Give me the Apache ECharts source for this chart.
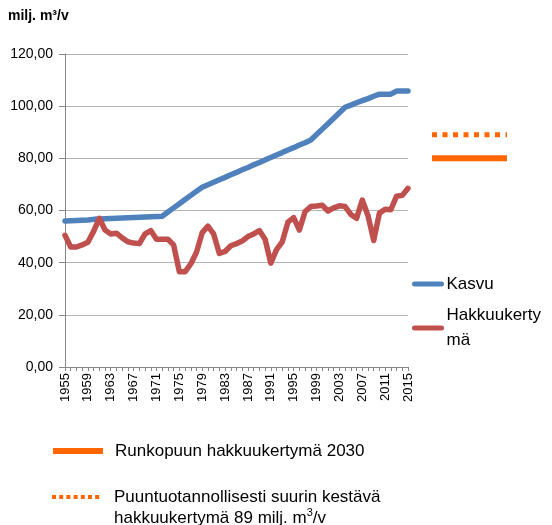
<!DOCTYPE html>
<html>
<head>
<meta charset="utf-8">
<script src="https://cdn.jsdelivr.net/npm/echarts@6/dist/echarts.min.js"></script>
<style>
html, body { margin: 0; padding: 0; background: #fff; }
#main { width: 552px; height: 525px; }
</style>
</head>
<body>
<div id="main"></div>
<script>
var years = [];
for (var y = 1955; y <= 2015; y++) years.push(String(y));

// Kasvu, milj. m3/v
var kasvu = [56.0, 56.1, 56.2, 56.3, 56.4, 56.6, 56.7, 56.8, 56.9, 57.0,
	57.1, 57.2, 57.3, 57.4, 57.5, 57.6, 57.7, 57.8, 59.4, 61.0,
	62.6, 64.2, 65.8, 67.4, 68.9, 69.9, 70.8, 71.8, 72.7, 73.7,
	74.6, 75.6, 76.5, 77.5, 78.4, 79.4, 80.3, 81.3, 82.2, 83.2,
	84.1, 85.1, 86.0, 87.0, 89.1, 91.2, 93.3, 95.4, 97.5, 99.6,
	100.4, 101.3, 102.1, 102.9, 103.8, 104.6, 104.6, 104.6, 105.8, 105.8,
	105.8];

// Hakkuukertymä, milj. m3/v
var hakkuu = [50.5, 46.0, 46.0, 46.8, 47.8, 52.0, 57.0, 52.5, 51.0, 51.3,
	49.5, 48.0, 47.5, 47.3, 51.0, 52.3, 49.0, 49.0, 49.0, 46.8,
	36.5, 36.5, 39.5, 44.0, 51.5, 54.0, 51.0, 43.5, 44.3, 46.5,
	47.3, 48.3, 50.0, 51.0, 52.3, 49.0, 39.8, 45.0, 48.0, 55.5,
	57.3, 52.5, 59.6, 61.5, 61.7, 62.0, 59.8, 61.0, 61.8, 61.5,
	58.5, 57.0, 64.0, 58.0, 48.5, 59.0, 60.5, 60.3, 65.5, 65.8,
	68.5];

// tavoitetasot
var runkopuu2030 = 80;
var suurinKestava = 89;

var nimet = ['Kasvu', 'Hakkuukertymä', 'Runkopuun hakkuukertymä 2030',
	'Puuntuotannollisesti suurin kestävä hakkuukertymä 89 milj. m3/v'];

var fontti = 'Liberation Sans, Arial, sans-serif';

var myChart = echarts.init(document.getElementById('main'));
myChart.setOption({
	animation: false,
	title: {
		text: 'milj. m³/v',
		left: 8,
		top: 9,
		padding: 0,
		textStyle: { fontSize: 14, fontWeight: 'bold', color: '#000', fontFamily: fontti }
	},
	legend: [{
		data: [nimet[0]],
		left: 412, top: 274, padding: 0,
		itemWidth: 27, itemHeight: 14,
		itemStyle: { opacity: 0 },
		lineStyle: { width: 5, cap: 'round' },
		textStyle: { fontSize: 17, lineHeight: 20, color: '#000', fontFamily: fontti }
	}, {
		data: [nimet[1]],
		left: 412, top: 290.5, padding: 0,
		itemWidth: 27, itemHeight: 14,
		itemStyle: { opacity: 0 },
		lineStyle: { width: 5, cap: 'round' },
		formatter: function () { return 'Hakkuukerty\nmä'; },
		textStyle: { fontSize: 17, lineHeight: 25, padding: [25, 0, 0, 0], color: '#000', fontFamily: fontti }
	}, {
		data: [nimet[2]],
		left: 50, top: 441, padding: 0,
		itemWidth: 50, itemHeight: 14,
		itemStyle: { opacity: 0 },
		lineStyle: { width: 6 },
		textStyle: { fontSize: 17, lineHeight: 20, padding: [0, 0, 0, 7], color: '#000', fontFamily: fontti }
	}, {
		data: [nimet[3]],
		left: 50, top: 465.5, padding: 0,
		itemWidth: 50, itemHeight: 14,
		itemStyle: { opacity: 0 },
		lineStyle: { type: [4, 3.2], width: 4 },
		formatter: function () {
			return '{t|Puuntuotannollisesti suurin kestävä}\n{t|hakkuukertymä 89 milj. m}{s|3}{t|/v}';
		},
		textStyle: {
			fontSize: 17, lineHeight: 21, padding: [21, 0, 0, 7], color: '#000', fontFamily: fontti,
			rich: {
				t: { fontSize: 17, lineHeight: 21, color: '#000', fontFamily: fontti },
				s: { fontSize: 11, lineHeight: 21, verticalAlign: 'top', color: '#000', fontFamily: fontti }
			}
		}
	}],
	grid: [
		{ left: 65, top: 54, right: 144, bottom: 158 },
		{ left: 432, top: 54, width: 75, bottom: 158 }
	],
	xAxis: [{
		type: 'category',
		gridIndex: 0,
		data: years,
		boundaryGap: false,
		axisLine: { lineStyle: { color: '#868686' } },
		axisTick: { interval: 0, length: 4, lineStyle: { color: '#868686' } },
		axisLabel: { interval: 3, rotate: 90, fontSize: 13, margin: 6, color: '#000', fontFamily: fontti }
	}, {
		type: 'value',
		gridIndex: 1,
		min: 0, max: 1,
		show: false
	}],
	yAxis: [{
		type: 'value',
		gridIndex: 0,
		min: 0, max: 120, interval: 20,
		axisLine: { show: true, lineStyle: { color: '#868686' } },
		axisTick: { show: true, length: 6, lineStyle: { color: '#868686' } },
		splitLine: { lineStyle: { color: '#b3b3b3' } },
		axisLabel: {
			fontSize: 14, margin: 12, color: '#000', fontFamily: fontti,
			formatter: function (v) { return v.toFixed(2).replace('.', ','); }
		}
	}, {
		type: 'value',
		gridIndex: 1,
		min: 0, max: 120, interval: 20,
		show: false
	}],
	series: [{
		name: nimet[0],
		type: 'line',
		data: kasvu,
		symbol: 'none',
		color: '#4F81BD',
		lineStyle: { width: 5.5, cap: 'round', join: 'round' }
	}, {
		name: nimet[1],
		type: 'line',
		data: hakkuu,
		symbol: 'none',
		color: '#C0504D',
		lineStyle: { width: 5.5, cap: 'round', join: 'round' }
	}, {
		name: nimet[2],
		type: 'line',
		xAxisIndex: 1, yAxisIndex: 1,
		data: [[0, runkopuu2030], [1, runkopuu2030]],
		symbol: 'none',
		color: '#FF6600',
		lineStyle: { width: 6 }
	}, {
		name: nimet[3],
		type: 'line',
		xAxisIndex: 1, yAxisIndex: 1,
		data: [[0, suurinKestava], [1, suurinKestava]],
		symbol: 'none',
		color: '#FF6600',
		lineStyle: { width: 5, type: [5, 5.5] }
	}]
});
</script>
</body>
</html>
